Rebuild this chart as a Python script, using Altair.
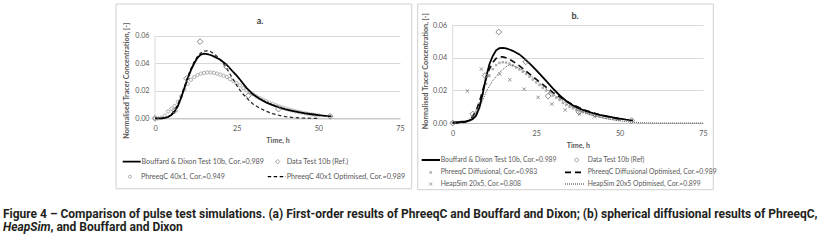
import altair as alt
import pandas as pd

# ---------------- data ----------------
# shared measured data: Data Test 10b
data_t = [0, 6, 9.7, 13.8, 21.9, 28.6, 37.8, 53.6]
data_c = [0, 0.0055, 0.029, 0.0557, 0.0375, 0.0165, 0.0068, 0.0015]

# panel a
a_bd_t = [0, 2, 3, 4, 5, 6, 7, 8, 9, 10, 11, 12, 13, 14, 15, 16, 17, 18, 20, 22, 24, 25, 26, 28,
          30, 32, 34, 36, 38, 40, 42, 44, 46, 48, 50, 52, 54]
a_bd_c = [0, 0, 0.0003, 0.001, 0.0025, 0.005, 0.009, 0.015, 0.022, 0.029, 0.035, 0.040, 0.044,
          0.0463, 0.047, 0.0467, 0.046, 0.045, 0.0425, 0.0388, 0.0335, 0.031, 0.0282, 0.0222,
          0.0175, 0.0142, 0.0116, 0.0096, 0.008, 0.0066, 0.0055, 0.0045, 0.0037, 0.003, 0.0024,
          0.0019, 0.0015]
a_pq_t = list(range(0, 51))
a_pq_c = [0, 0, 0.0005, 0.002, 0.005, 0.007, 0.009, 0.012, 0.016, 0.021, 0.025, 0.028, 0.030,
          0.0315, 0.0325, 0.033, 0.0333, 0.0333, 0.033, 0.0325, 0.0318, 0.031, 0.030, 0.0285,
          0.027, 0.0255, 0.024, 0.022, 0.0205, 0.019, 0.0175, 0.016, 0.0148, 0.0136, 0.0125,
          0.0114, 0.0104, 0.0095, 0.0086, 0.0078, 0.0071, 0.0064, 0.0058, 0.0052, 0.0047,
          0.0042, 0.0037, 0.0033, 0.0029, 0.0026, 0.0023]
a_opt_t = [0, 2, 4, 5, 6, 7, 8, 9, 10, 11, 12, 13, 14, 15, 16, 17, 18, 19, 20, 21, 22, 23, 24,
           25, 26, 27, 28, 29, 30, 32, 34, 36, 38, 40, 42, 44, 46, 48, 50]
a_opt_c = [0, 0, 0.001, 0.003, 0.006, 0.010, 0.016, 0.023, 0.030, 0.036, 0.041, 0.045, 0.0475,
           0.0488, 0.049, 0.0485, 0.047, 0.045, 0.0425, 0.0395, 0.036, 0.032, 0.028, 0.024,
           0.0205, 0.0175, 0.015, 0.0125, 0.0105, 0.0075, 0.0052, 0.0035, 0.0022, 0.0013,
           0.0007, 0.0004, 0.0002, 0.0001, 0.0]

# panel b
b_bd_t = [0, 2, 4, 5, 6, 7, 8, 9, 10, 11, 12, 13, 14, 15, 16, 17, 18, 20, 22, 24, 26, 28, 30,
          32, 34, 36, 38, 40, 42, 44, 46, 48, 50, 52, 54]
b_bd_c = [0.0004, 0.0006, 0.001, 0.0015, 0.0025, 0.0045, 0.0095, 0.018, 0.028, 0.036, 0.041,
          0.0445, 0.0458, 0.046, 0.0457, 0.045, 0.0442, 0.042, 0.0385, 0.0345, 0.0302, 0.0258,
          0.0212, 0.017, 0.0135, 0.0108, 0.0088, 0.0072, 0.006, 0.005, 0.0042, 0.0034, 0.0027,
          0.002, 0.0015]
b_df_t = list(range(0, 51))
b_df_c = [0, 0, 0, 0.0002, 0.0008, 0.002, 0.004, 0.007, 0.012, 0.018, 0.024, 0.029, 0.033,
          0.0355, 0.0368, 0.0372, 0.037, 0.0363, 0.0353, 0.034, 0.0328, 0.0314, 0.030, 0.0283,
          0.0266, 0.0249, 0.0232, 0.0215, 0.0199, 0.0183, 0.0168, 0.0154, 0.0141, 0.0122,
          0.011, 0.0099, 0.009, 0.0081, 0.0073, 0.0066, 0.006, 0.0054, 0.0049, 0.0044, 0.004,
          0.0036, 0.0032, 0.0029, 0.0026, 0.0023, 0.002]
b_dfo_t = [0, 2, 4, 5, 6, 7, 8, 9, 10, 11, 12, 13, 14, 15, 16, 17, 18, 20, 22, 24, 26, 28, 30,
           32, 34, 36, 38, 40, 42, 44, 46, 48, 50]
b_dfo_c = [0, 0, 0.0008, 0.002, 0.004, 0.0075, 0.013, 0.02, 0.027, 0.033, 0.037, 0.0395,
           0.0405, 0.0405, 0.040, 0.039, 0.0378, 0.035, 0.0318, 0.0285, 0.0252, 0.022, 0.0188,
           0.016, 0.0134, 0.0112, 0.0093, 0.0077, 0.0063, 0.0051, 0.0041, 0.0032, 0.0025]
b_hs_t = [4.4, 8.6, 10.5, 14.1, 17.1, 21.4, 25.6, 29.7, 33.7, 38, 42.5]
b_hs_c = [0.0196, 0.033, 0.029, 0.030, 0.0265, 0.0207, 0.0157, 0.0116, 0.008, 0.0055, 0.0038]
b_hso_t = [0, 2, 4, 6, 8, 10, 12, 14, 16, 17, 18, 20, 22, 24, 26, 28, 30, 32, 34, 36, 38, 40,
           42, 44, 46, 48, 50, 52, 54, 56, 60, 65, 70, 75]
b_hso_c = [0, 0.0001, 0.0005, 0.002, 0.009, 0.019, 0.026, 0.031, 0.0345, 0.0355, 0.0352,
           0.0335, 0.031, 0.028, 0.0245, 0.021, 0.0178, 0.0148, 0.012, 0.0097, 0.0077, 0.006,
           0.0046, 0.0035, 0.0026, 0.0019, 0.0013, 0.0008, 0.0004, 0.0002, 0, 0, 0, 0]

x_ticks = [0, 25, 50, 75]
y_ticks = [0, 0.02, 0.04, 0.06]
x_title = "Time, h"
y_title = "Normalised Tracer Concentration, [-]"
panel_titles = ["a.", "b."]
leg_a = ["Bouffard & Dixon Test 10b, Cor.=0.989", "Data Test 10b (Ref.)",
         "PhreeqC 40x1, Cor.=0.949", "PhreeqC 40x1 Optimised, Cor.=0.989"]
leg_b = ["Bouffard & Dixon Test 10b, Cor.=0.989", "Data Test 10b (Ref)",
         "PhreeqC Diffusional, Cor.=0.983", "PhreeqC Diffusional Optimised, Cor.=0.989",
         "HeapSim 20x5, Cor.=0.808", "HeapSim 20x5 Optimised, Cor.=0.899"]
caption_line1 = ("Figure 4 \u2013 Comparison of pulse test simulations. (a) First-order results of "
                 "PhreeqC and Bouffard and Dixon; (b) spherical diffusional results of PhreeqC,")
caption_line2 = ["HeapSim", ", and Bouffard and Dixon"]   # first piece in italics

# ---------------- styling ----------------
FONT = "Lato"
CAPFONT = "Roboto"
TXT = "#595959"
GRID = "#d9d9d9"
FRAME = "#d0d0d0"
LEGSIZE_A = 7.2
LEGSIZE_B = 6.8
TICKSIZE = 7.2
TITLESIZE = 7.2
one = pd.DataFrame({"k": [0]})


def df(t, c):
    return pd.DataFrame({"t": t, "c": c})


def axes(xlabpad, xtitle_y, ylabpad, ytitle_x, ytitle_y):
    xa = alt.Axis(values=x_ticks, title=x_title, grid=False, ticks=False, tickSize=0,
                  domainColor="#bfbfbf", labelFont=FONT, labelFontSize=TICKSIZE,
                  labelColor=TXT, labelPadding=xlabpad, labelFlush=False, titleFont=FONT,
                  titleFontSize=TITLESIZE, titleFontWeight="bold", titleColor=TXT,
                  titleY=xtitle_y, titleBaseline="middle")
    ya = alt.Axis(values=y_ticks, format=".2f", title=y_title, grid=True, gridColor=GRID,
                  ticks=False, tickSize=0, domain=False, labelFont=FONT,
                  labelFontSize=TICKSIZE, labelColor=TXT, labelPadding=ylabpad,
                  titleFont=FONT, titleFontSize=TITLESIZE, titleFontWeight="bold",
                  titleColor=TXT, titleX=ytitle_x, titleY=ytitle_y, titleAngle=270,
                  titleAlign="center", titleBaseline="middle")
    return xa, ya


def hrule(x1, x2, y, color=FRAME, width=1):
    return alt.Chart(one).mark_rule(color=color, strokeWidth=width).encode(
        x=alt.value(x1), x2=alt.value(x2), y=alt.value(y))


def vrule(x, y1, y2, color=FRAME, width=1):
    return alt.Chart(one).mark_rule(color=color, strokeWidth=width).encode(
        x=alt.value(x), y=alt.value(y1), y2=alt.value(y2))


def frame(x1, x2, y1, y2):
    return [hrule(x1, x2, y1), hrule(x1, x2, y2), vrule(x1, y1, y2), vrule(x2, y1, y2)]


def label(txt, x, y, size, font=FONT, weight="normal", color=TXT, align="left",
          baseline="middle", style="normal"):
    return alt.Chart(one).mark_text(font=font, fontSize=size, fontWeight=weight, color=color,
                                    align=align, baseline=baseline, fontStyle=style).encode(
        x=alt.value(x), y=alt.value(y), text=alt.value(txt))


def leg_line(x1, x2, y, width, dash):
    return alt.Chart(one).mark_rule(color="#000000", strokeWidth=width, strokeDash=dash).encode(
        x=alt.value(x1), x2=alt.value(x2), y=alt.value(y))


def leg_pt(x, y, shape, size, color, filled, sw=0.8):
    return alt.Chart(one).mark_point(shape=shape, size=size, color=color, filled=filled,
                                     strokeWidth=sw, opacity=1).encode(
        x=alt.value(x), y=alt.value(y))


XSHAPE = "M-1,-1L1,1M-1,1L1,-1"


def yline(enc):
    # vertical value-axis line from 0 to the top tick
    d = pd.DataFrame({"t": [x_ticks[0]], "c": [y_ticks[0]], "c2": [y_ticks[-1]]})
    e = enc()
    return alt.Chart(d).mark_rule(color=GRID, strokeWidth=1).encode(
        x=e["x"], y=e["y"], y2="c2:Q")


CAP = dict(font=CAPFONT, weight="bold", color="#231f20", baseline="alphabetic")

# ---------------- panel a ----------------
WA, HA = 245, 93.4
A_TOP = 0.06 + 10.7 / (82.7 / 0.06)   # plot top sits above the 0.06 grid line
xs_a = alt.Scale(domain=[0, 75], nice=False)
ys_a = alt.Scale(domain=[0, A_TOP], nice=False, zero=True)
xa_a, ya_a = axes(6, 22.3, 6, -28.3, 55.2)


def enc_a():
    return dict(x=alt.X("t:Q", scale=xs_a, axis=xa_a), y=alt.Y("c:Q", scale=ys_a, axis=ya_a))


# transparent rectangle that fixes the overall extent of the figure
bg = alt.Chart(one).mark_rect(fill="white", fillOpacity=0, strokeWidth=0).encode(
    x=alt.value(-155), x2=alt.value(672), y=alt.value(-24.3), y2=alt.value(223.7))

pa_layers = [bg] + frame(-39, 256.7, -21, 163.7) + [
    yline(enc_a),
    alt.Chart(df(a_pq_t, a_pq_c)).mark_point(shape="circle", size=11, color="#a0a0a0",
                                             filled=False, strokeWidth=0.8, opacity=1).encode(
        **enc_a()),
    alt.Chart(df(a_opt_t, a_opt_c)).mark_line(color="#222222", strokeWidth=1.2,
                                              strokeDash=[3.5, 2.5]).encode(**enc_a()),
    alt.Chart(df(a_bd_t, a_bd_c)).mark_line(color="#000000", strokeWidth=1.8).encode(**enc_a()),
    alt.Chart(df(data_t, data_c)).mark_point(shape="diamond", size=34, color="#7a7a7a",
                                             filled=False, strokeWidth=0.9, opacity=1).encode(
        **enc_a()),
    label(panel_titles[0], 105, -4.3, 9, weight="bold", color="#404040", align="center"),
    # legend
    leg_line(-32.3, -14.3, 136.7, 1.8, [1, 0]),
    label(leg_a[0], -13.5, 136.7, LEGSIZE_A),
    leg_pt(122.7, 136.7, "diamond", 20, "#8a8a8a", False),
    label(leg_a[1], 131.7, 136.7, LEGSIZE_A),
    leg_pt(-25, 151.7, "circle", 9, "#a0a0a0", False),
    label(leg_a[2], -14, 151.7, LEGSIZE_A),
    leg_line(112.7, 131.0, 151.7, 1.2, [3.5, 2.5]),
    label(leg_a[3], 131.7, 151.7, LEGSIZE_A),
    # caption
    label(caption_line1, -152, 193, 12, **CAP),
    label(caption_line2[0], -152, 205.5, 12, style="italic", **CAP),
    label(caption_line2[1], -104.5, 205.5, 12, **CAP),
]
panel_a = alt.layer(*pa_layers).properties(width=WA, height=HA)

# ---------------- panel b ----------------
WB, HB = 250.3, 98
xs_b = alt.Scale(domain=[0, 75], nice=False)
ys_b = alt.Scale(domain=[0, 0.06], nice=False)
xa_b, ya_b = axes(6, 22.7, 6, -27.7, 45.7)


def enc_b():
    return dict(x=alt.X("t:Q", scale=xs_b, axis=xa_b), y=alt.Y("c:Q", scale=ys_b, axis=ya_b))


pb_layers = frame(-35, 260.6, -21, 164.7) + [
    yline(enc_b),
    alt.Chart(df(b_df_t, b_df_c)).mark_point(shape="square", size=6, color="#b0b0b0",
                                             filled=True, opacity=1).encode(**enc_b()),
    alt.Chart(df(b_hso_t, b_hso_c)).mark_line(color="#333333", strokeWidth=0.8,
                                              strokeDash=[1, 1]).encode(**enc_b()),
    alt.Chart(df(b_dfo_t, b_dfo_c)).mark_line(color="#111111", strokeWidth=1.6,
                                              strokeDash=[6, 4]).encode(**enc_b()),
    alt.Chart(df(b_bd_t, b_bd_c)).mark_line(color="#000000", strokeWidth=1.8).encode(**enc_b()),
    alt.Chart(df(b_hs_t, b_hs_c)).mark_point(shape=XSHAPE, size=12, color="#7a7a7a",
                                             filled=False, strokeWidth=0.8, opacity=1).encode(
        **enc_b()),
    alt.Chart(df(data_t, data_c)).mark_point(shape="diamond", size=34, color="#7a7a7a",
                                             filled=False, strokeWidth=0.9, opacity=1).encode(
        **enc_b()),
    label(panel_titles[1], 122.3, -9.3, 9, weight="bold", color="#404040", align="center"),
    # legend
    leg_line(-31, -12.7, 135, 1.8, [1, 0]),
    label(leg_b[0], -12, 135, LEGSIZE_B),
    leg_pt(124, 135, "diamond", 20, "#8a8a8a", False),
    label(leg_b[1], 135, 135, LEGSIZE_B),
    leg_pt(-22, 147.4, "square", 6, "#b0b0b0", True),
    label(leg_b[2], -12, 147.4, LEGSIZE_B),
    leg_line(112.3, 130.3, 147.4, 1.6, [6, 4]),
    label(leg_b[3], 135, 147.4, LEGSIZE_B),
    leg_pt(-22, 159, XSHAPE, 10, "#8a8a8a", False),
    label(leg_b[4], -12, 159, LEGSIZE_B),
    leg_line(112.3, 132.3, 159, 0.8, [1, 1]),
    label(leg_b[5], 135, 159, LEGSIZE_B),
]
panel_b = alt.layer(*pb_layers).properties(width=WB, height=HB)

chart = alt.hconcat(panel_a, panel_b, spacing=52.7, bounds="flush").properties(
    padding=0, background="white").configure_view(strokeWidth=0)

chart.save("out.html", embed_options={"renderer": "svg", "actions": False})
